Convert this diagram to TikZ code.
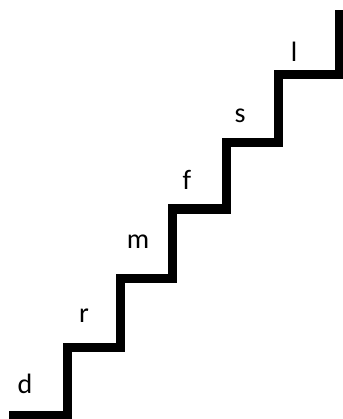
\documentclass[tikz,border=0pt]{standalone}
\usepackage{fontspec}
\setmainfont{Carlito}

\begin{document}
\begin{tikzpicture}[x=1pt, y=-1pt,
            letter/.style={anchor=base, font=\fontsize{28}{28}\selectfont}]
            \useasboundingbox (0,0) rectangle (342,419);

            % stairs
            \draw[line width=9pt, line join=miter]
                (9,415)--(67,415)--(67,347)--(120,347)--(120,278)--(172,278)
                --(172,209)--(226,209)--(226,143)--(278,143)--(278,75)
                --(339,75)--(339,10);

            % notation
            \node[letter] (d) at (25,393) {d};
            \node[letter] (r) at (84,322) {r};
            \node[letter] (m) at (138,248) {m};
            \node[letter] (f) at (187,190) {f};
            \node[letter] (s) at (240,123) {s};
            \node[letter] (l) at (294,62) {l};
        \end{tikzpicture}
\end{document}
